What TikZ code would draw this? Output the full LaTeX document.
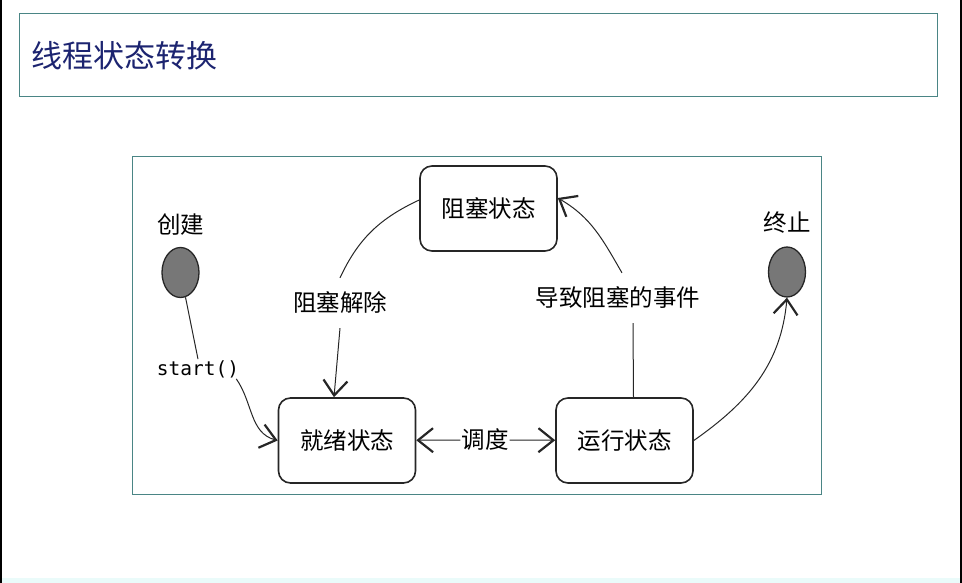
\documentclass[tikz,border=0pt]{standalone}
\usepackage{fontspec}
\newfontfamily\cjk{Noto Sans CJK SC}
\newfontfamily\monofont{DejaVu Sans Mono}
\usetikzlibrary{arrows.meta}
\definecolor{frameteal}{HTML}{4A8585}
\definecolor{titleblue}{HTML}{1C2470}
\definecolor{dotgray}{HTML}{777777}
\definecolor{stripcyan}{HTML}{EAFBFA}
\tikzset{
	,x = 1pt, y = -1pt
	,font = \cjk\fontsize{23.5}{25}\selectfont
	,mystate/.style = {rectangle, rounded corners=12pt, draw=black!85, line width=1.6pt,
	                   minimum width=137pt, minimum height=85pt, align=center}
	,mydot/.style   = {ellipse, draw=black!85, line width=1.3pt, fill=dotgray,
	                   minimum width=37pt, minimum height=50pt, inner sep=0pt}
	,mylabel/.style = {inner sep=1pt}
	,bigbarb/.tip   = {Straight Barb[length=15pt, width=24pt, line width=2.2pt]}
	,edgen/.style = {-, line width=1pt, black!85}
	,edger/.style = {-bigbarb, line width=1pt, black!85}
}
\usetikzlibrary{shapes.geometric}
\begin{document}
\begin{tikzpicture}
	\useasboundingbox (0,0) rectangle (962,583);
	\fill[stripcyan] (0,578) rectangle (962,583);
	\draw[black, line width=2pt] (1,0) -- (1,583);
	\draw[black, line width=2pt] (961,0) -- (961,583);
	\draw[frameteal, line width=1pt] (19,14) rectangle (937,97);
	\node[anchor=west, inner sep=0pt, text=titleblue, font=\cjk\fontsize{31}{33}\selectfont] (title) at (31,56) {线程状态转换};
	\draw[frameteal, line width=1pt] (132,157) rectangle (821,494);

	\node[mystate] at (488.5, 208.5) (block) {阻塞状态};
	\node[mystate] at (347.0, 440.5) (ready) {就绪状态};
	\node[mystate] at (624.5, 440.5) (run)   {运行状态};
	\node[mydot, label={[yshift=8pt]above: 创建}] at (180.5, 272.5) (start) {};
	\node[mydot, label={[yshift=9pt]above: 终止}] at (787.0, 272.0) (stop)  {};

	\node[mylabel, font=\monofont\fontsize{19.5}{21}\selectfont] at (198, 369) (lstart) {start()};
	\node[mylabel, inner ysep=14pt] at (340, 303) (lunblock) {阻塞解除};
	\node[mylabel, inner ysep=14pt] at (618, 298) (lcause) {导致阻塞的事件};
	\node[mylabel] at (485, 440) (lsched) {调度};

	\draw[edgen] (start) -- (lstart.north);
	\draw[edger] ([xshift=-4pt]lstart.south east) to[out=-55, in=165] (ready.west);
	\draw[edgen] (block.west |- 0,200) to[out=205, in=65] (lunblock.north);
	\draw[edger] (lunblock.south) -- ([xshift=-13pt]ready.north);
	\draw[edgen] ([xshift=9pt]run.north) -- ([xshift=15pt]lcause.south);
	\draw[edger] ([xshift=4pt]lcause.north) to[out=120, in=-30] (block.east |- 0,198);
	\draw[edger] (lsched) -- (ready);
	\draw[edger] (lsched) -- (run);
	\draw[edger] (run.east) to[out=35, in=-95] (stop.south);
\end{tikzpicture}
\end{document}
